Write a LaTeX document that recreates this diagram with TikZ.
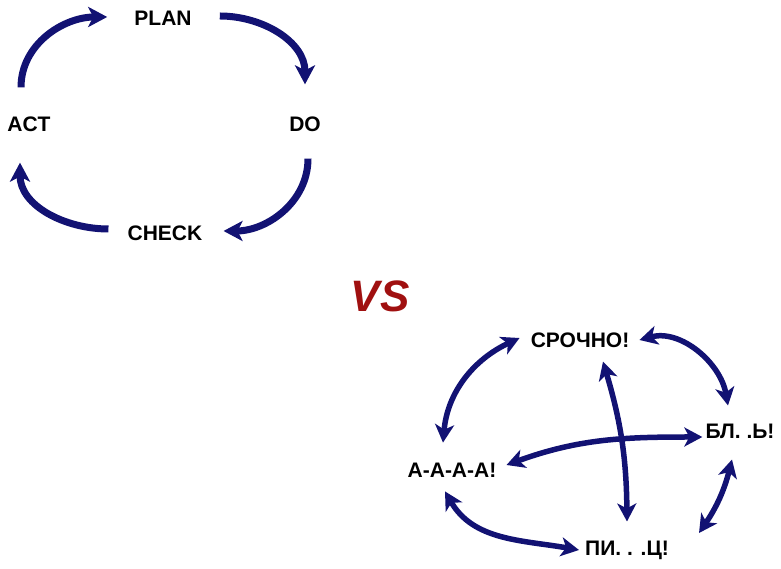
\documentclass[tikz,border=0pt]{standalone}
\usepackage{fontspec}
\setmainfont{Liberation Sans}
\usetikzlibrary{arrows.meta}
\definecolor{navy}{RGB}{18,18,115}
\definecolor{vsred}{RGB}{160,16,16}
\tikzset{
  lbl/.style={inner sep=0pt, font=\fontsize{21}{21}\selectfont\bfseries},
  arr/.style={draw=navy, line width=7pt, -{Stealth[length=19pt,width=20pt,inset=5pt]}},
  darr/.style={draw=navy, line width=5.5pt, {Stealth[length=18pt,width=19pt,inset=5pt]}-{Stealth[length=18pt,width=19pt,inset=5pt]}}
}
\begin{document}
\begin{tikzpicture}[x=1pt,y=1pt]
\useasboundingbox (0,0) rectangle (781,569);
% top cycle
\node[lbl] (plan) at (163,551) {PLAN};
\node[lbl] (act) at (29,445) {ACT};
\node[lbl] (do) at (305,445) {DO};
\node[lbl] (check) at (165,336) {CHECK};
\draw[arr] ([xshift=-8pt,yshift=29pt]act.north) to[out=90,in=180] ([xshift=-27pt,yshift=1pt]plan.west);
\draw[arr] ([xshift=28pt,yshift=2pt]plan.east) to[out=0,in=90] ([yshift=32pt]do.north);
\draw[arr] ([xshift=3pt,yshift=-27pt]do.south) to[out=-90,in=0] ([xshift=21pt,yshift=2pt]check.east);
\draw[arr] ([xshift=-19pt,yshift=4pt]check.west) to[out=180,in=-90] ([xshift=-9pt,yshift=-31pt]act.south);
% vs
\node[inner sep=0pt, text=vsred, font=\fontsize{44}{44}\selectfont\bfseries\itshape] (vs) at (380,273) {VS};
% bottom group
\node[lbl] (srochno) at (580,229) {СРОЧНО!};
\node[lbl] (bl) at (740,138) {БЛ. .Ь!};
\node[lbl] (aaaa) at (452,99) {А-А-А-А!};
\node[lbl] (pi) at (627,19) {ПИ. . .Ц!};
\draw[darr] ([xshift=-9pt,yshift=20pt]aaaa.north) to[out=85,in=205] ([xshift=-11pt,yshift=2pt]srochno.west);
\draw[darr] ([xshift=10pt]srochno.east) to[out=15,in=100] ([xshift=-12pt,yshift=18pt]bl.north);
\draw[darr] ([xshift=23pt,yshift=-14pt]srochno.south) to[bend left=8] ([yshift=19pt]pi.north);
\draw[darr] ([xshift=10pt,yshift=5pt]aaaa.east) to[out=20,in=180] ([xshift=-3pt,yshift=-6pt]bl.west);
\draw[darr] ([xshift=-7pt,yshift=-14pt]aaaa.south) to[out=-60,in=170] ([xshift=-6pt]pi.west);
\draw[darr] ([xshift=-8pt,yshift=-21pt]bl.south) to[bend left=10] ([xshift=30pt,yshift=17pt]pi.east);
\end{tikzpicture}
\end{document}
